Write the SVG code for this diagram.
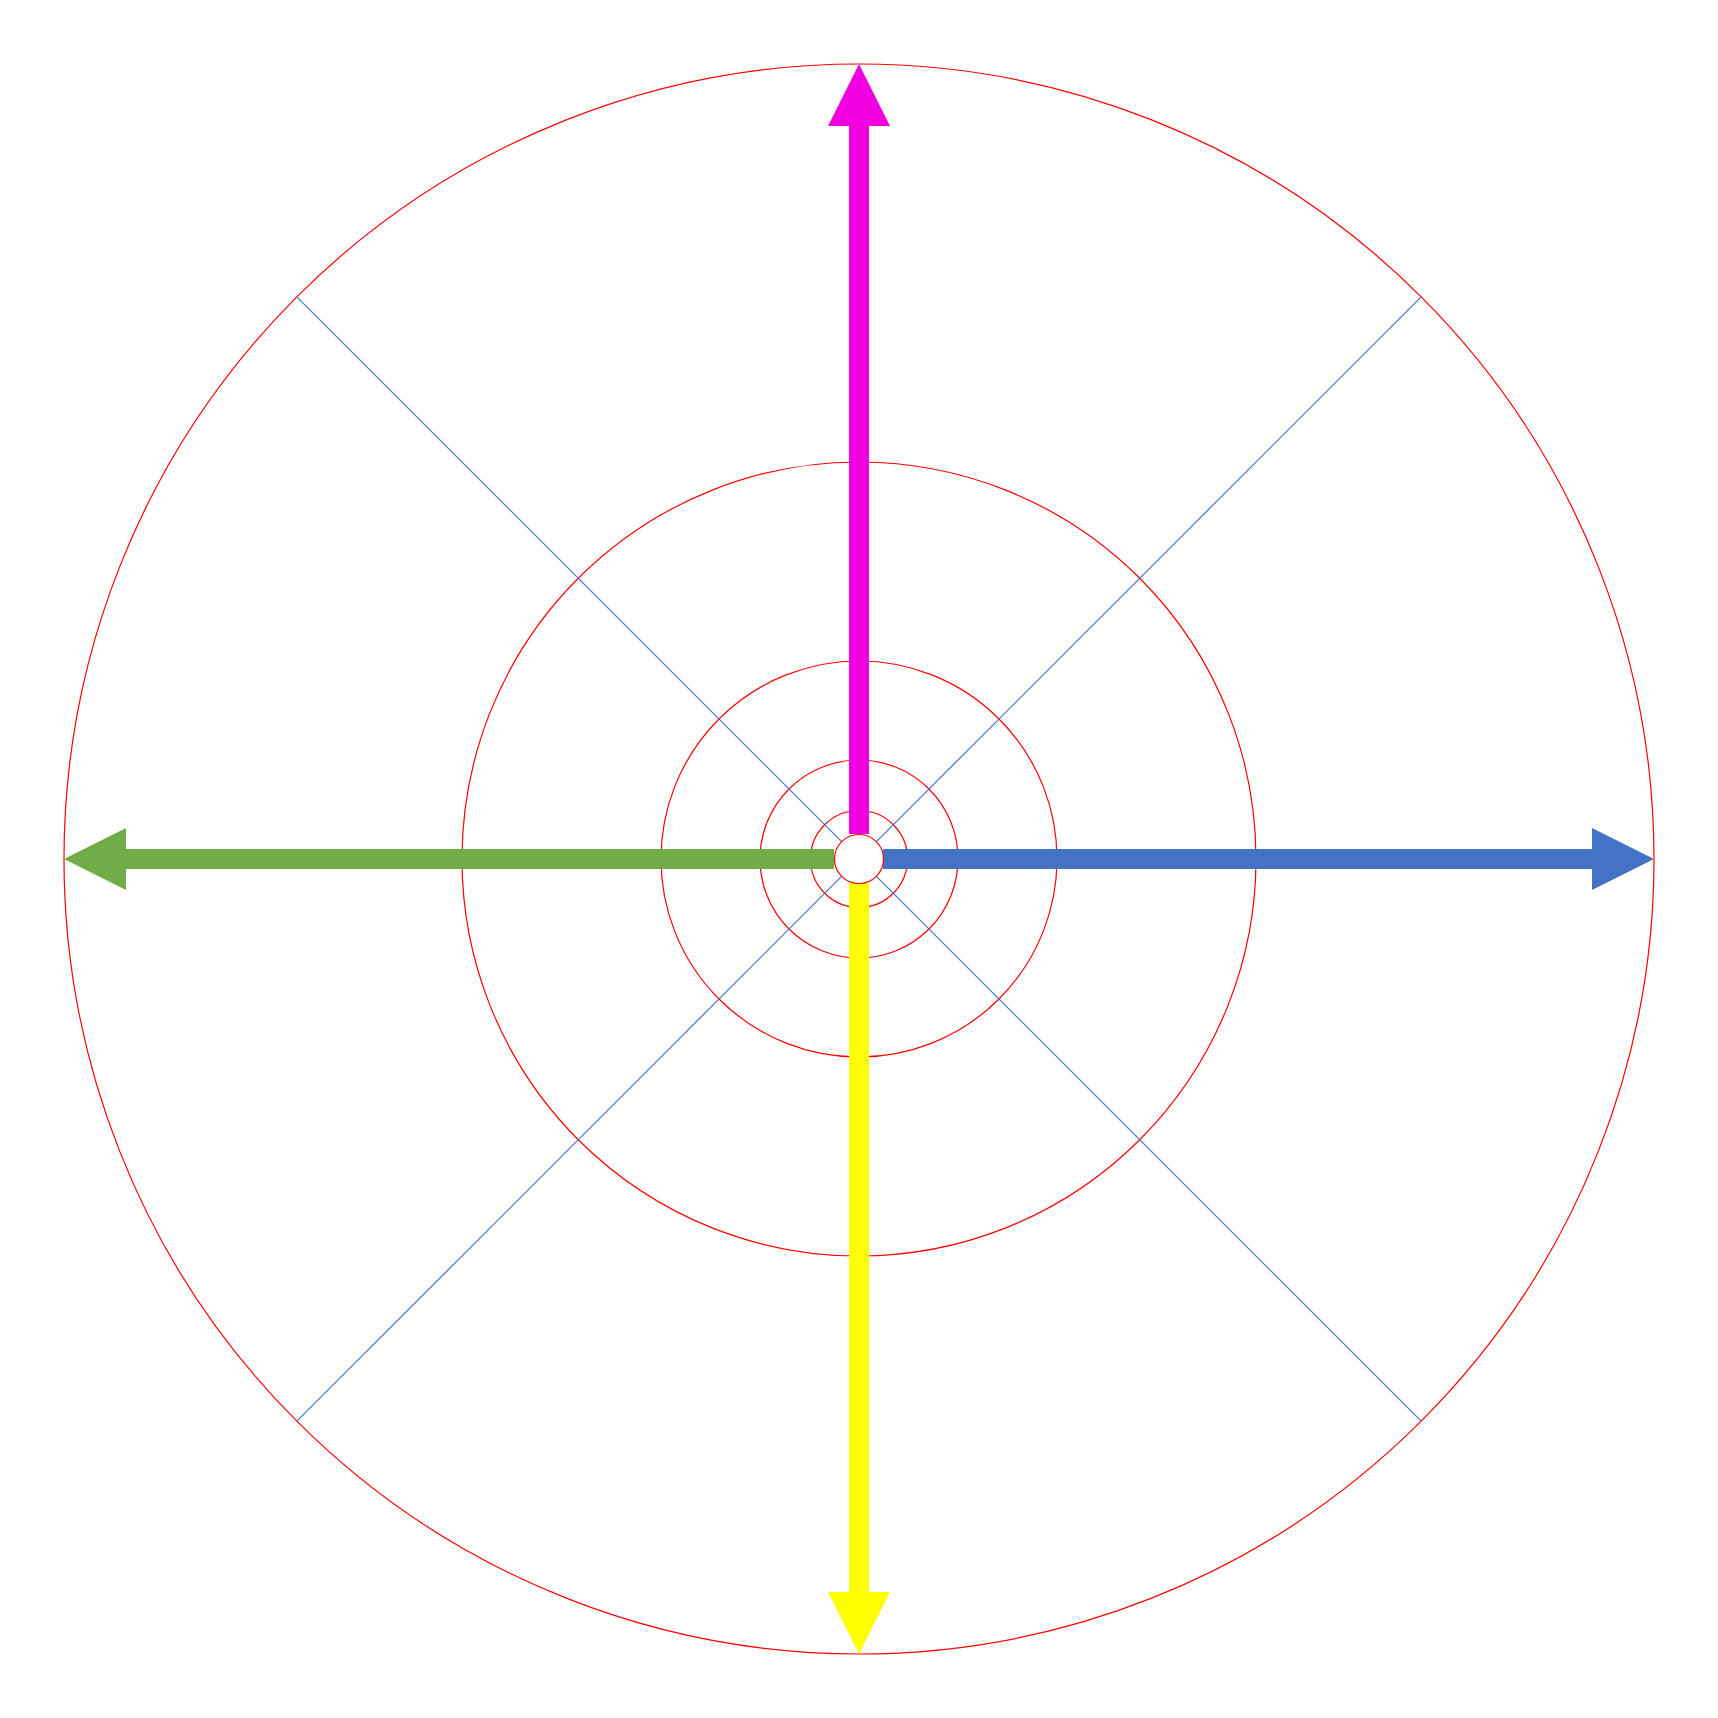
<svg xmlns="http://www.w3.org/2000/svg" width="1718" height="1718" viewBox="0 0 1718 1718">
<style>
.ring{fill:none;stroke:#FF0000;stroke-width:1.2}
.diag{stroke:#4472C4;stroke-width:1.2;fill:none}
</style>
<rect width="1718" height="1718" fill="#FFFFFF"/>
<g id="rings">
<circle class="ring" cx="859" cy="859" r="795"/>
<circle class="ring" cx="859" cy="859" r="397"/>
<circle class="ring" cx="859" cy="859" r="198"/>
<circle class="ring" cx="859" cy="859" r="99"/>
<circle class="ring" cx="859" cy="859" r="48.5"/>
</g>
<g id="connectors">
<line class="diag" x1="296.8" y1="296.8" x2="1421.2" y2="1421.2"/>
<line class="diag" x1="1421.2" y1="296.8" x2="296.8" y2="1421.2"/>
<polygon id="arrow-up" fill="#F000DE" points="849,834 849,126 828,126 859,64 890,126 869,126 869,834"/>
<polygon id="arrow-down" fill="#FFFF00" points="849,883 849,1592 828,1592 859,1654 890,1592 869,1592 869,883"/>
<polygon id="arrow-left" fill="#70AD47" points="834,849 126,849 126,828 64,859 126,890 126,869 834,869"/>
<polygon id="arrow-right" fill="#4472C4" points="883,849 1592,849 1592,828 1654,859 1592,890 1592,869 883,869"/>
</g>
<g id="hub">
<circle cx="859" cy="859" r="24.5" fill="#FFFFFF" stroke="#FF0000" stroke-width="1.2"/>
</g>
</svg>
